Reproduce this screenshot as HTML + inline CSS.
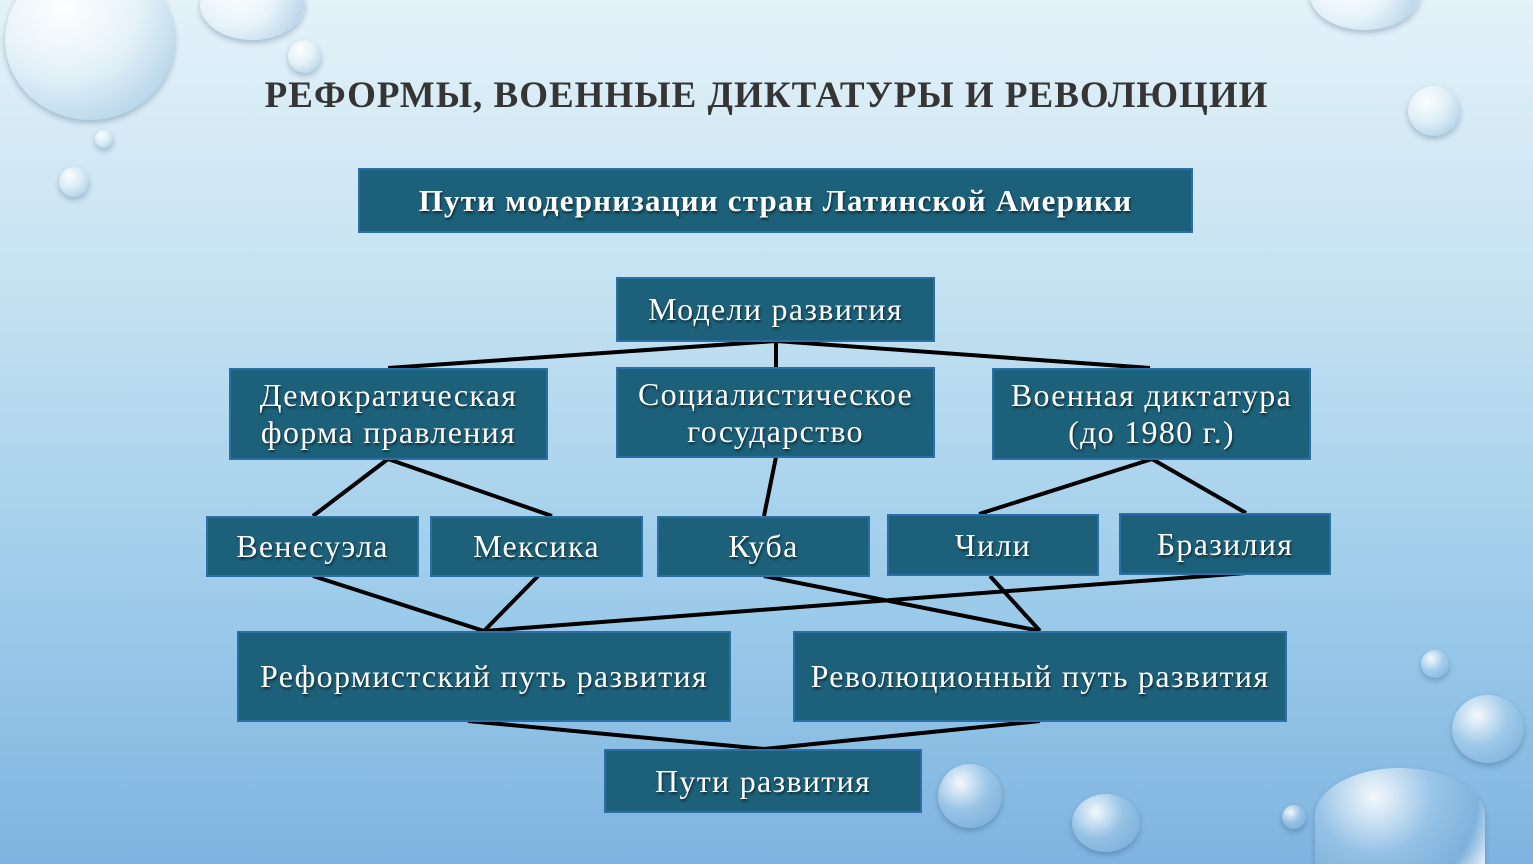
<!DOCTYPE html>
<html><head><meta charset="utf-8"><style>
html,body{margin:0;padding:0;width:1533px;height:864px;overflow:hidden}
body{position:relative;
background:linear-gradient(180deg,#e4f2f9 0%,#c3e1f1 35%,#9ccbea 70%,#7fb4e0 100%);
font-family:"Liberation Serif","DejaVu Serif",serif}
.t{position:absolute;left:0;width:1533px;top:74px;text-align:center;font-size:37px;font-weight:bold;color:#353535;letter-spacing:1px}
.b{position:absolute;box-sizing:border-box;background:#1c6079;border:2px solid #2b6fa8;color:#fff;display:flex;align-items:center;justify-content:center;text-align:center;font-size:32px;letter-spacing:1.3px;line-height:37px;text-shadow:1px 2px 2px rgba(0,0,0,.55);white-space:nowrap}
.bub{position:absolute;border-radius:50%;background:radial-gradient(circle at 35% 30%,rgba(255,255,255,.9),rgba(255,255,255,.15) 45%,rgba(120,170,210,.35) 80%,rgba(255,255,255,.8));box-shadow:0 3px 6px rgba(0,40,80,.25)}
svg{position:absolute;left:0;top:0}
</style></head><body>
<div class="bub" style="left:5px;top:-40px;width:170px;height:160px"></div>
<div class="bub" style="left:200px;top:-30px;width:105px;height:70px"></div>
<div class="bub" style="left:288px;top:40px;width:33px;height:33px"></div>
<div class="bub" style="left:95px;top:130px;width:18px;height:18px"></div>
<div class="bub" style="left:59px;top:167px;width:30px;height:30px"></div>
<div class="bub" style="left:1310px;top:-40px;width:110px;height:70px"></div>
<div class="bub" style="left:1408px;top:86px;width:52px;height:50px"></div>
<div class="bub" style="left:1421px;top:650px;width:28px;height:28px"></div>
<div class="bub" style="left:1452px;top:695px;width:72px;height:68px"></div>
<div class="bub" style="left:1315px;top:768px;width:170px;height:96px;border-radius:50% 50% 0 0"></div>
<div class="bub" style="left:938px;top:764px;width:64px;height:64px"></div>
<div class="bub" style="left:1072px;top:794px;width:68px;height:58px"></div>
<div class="bub" style="left:1282px;top:805px;width:24px;height:24px"></div>
<div class="t">РЕФОРМЫ, ВОЕННЫЕ ДИКТАТУРЫ И РЕВОЛЮЦИИ</div>
<svg width="1533" height="864"><g stroke="#000" stroke-width="4" fill="none">
<line x1="776" y1="341" x2="776" y2="367"/><line x1="776" y1="341" x2="388" y2="368"/><line x1="776" y1="341" x2="1150" y2="368"/>
<line x1="388" y1="459" x2="313" y2="516"/><line x1="388" y1="459" x2="552" y2="516"/>
<line x1="776" y1="457" x2="764" y2="516"/>
<line x1="1152" y1="459" x2="979" y2="514"/><line x1="1152" y1="459" x2="1246" y2="513"/>
<line x1="313" y1="576" x2="484" y2="631"/><line x1="538" y1="576" x2="484" y2="631"/><line x1="1246" y1="573" x2="484" y2="631"/>
<line x1="764" y1="576" x2="1040" y2="631"/><line x1="990" y1="576" x2="1040" y2="631"/>
<line x1="468" y1="721" x2="764" y2="749"/><line x1="1040" y1="721" x2="764" y2="749"/>
</g></svg>
<div class="b" style="left:358px;top:168px;width:835px;height:65px;font-weight:bold;font-size:31px;letter-spacing:1.2px">Пути модернизации стран Латинской Америки</div>
<div class="b" style="left:616px;top:277px;width:319px;height:65px">Модели развития</div>
<div class="b" style="left:229px;top:368px;width:319px;height:92px">Демократическая<br>форма правления</div>
<div class="b" style="left:616px;top:367px;width:319px;height:91px">Социалистическое<br>государство</div>
<div class="b" style="left:992px;top:368px;width:319px;height:92px">Военная диктатура<br>(до 1980 г.)</div>
<div class="b" style="left:206px;top:516px;width:213px;height:61px">Венесуэла</div>
<div class="b" style="left:430px;top:516px;width:213px;height:61px">Мексика</div>
<div class="b" style="left:657px;top:516px;width:213px;height:61px">Куба</div>
<div class="b" style="left:887px;top:514px;width:212px;height:62px">Чили</div>
<div class="b" style="left:1119px;top:513px;width:212px;height:62px">Бразилия</div>
<div class="b" style="left:237px;top:631px;width:494px;height:91px">Реформистский путь развития</div>
<div class="b" style="left:793px;top:631px;width:494px;height:91px">Революционный путь развития</div>
<div class="b" style="left:604px;top:749px;width:318px;height:64px">Пути развития</div>
</body></html>
